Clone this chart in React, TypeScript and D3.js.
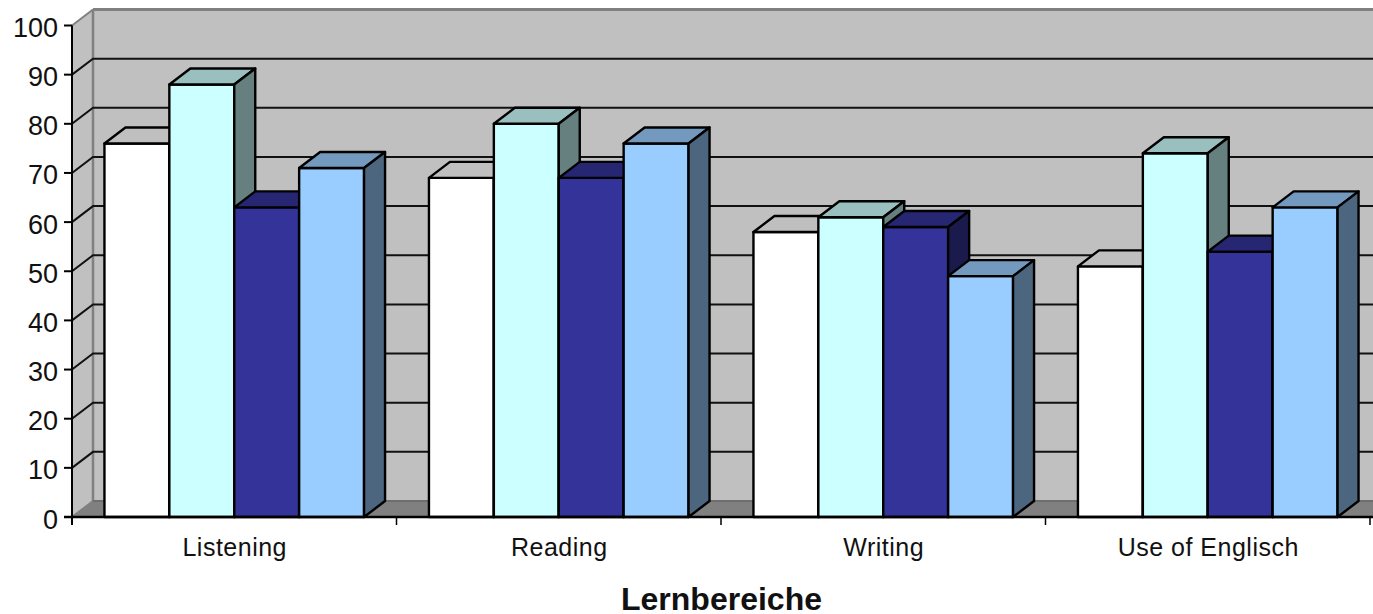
import React from "react";
import * as d3 from "d3";

const categories = ["Listening", "Reading", "Writing", "Use of Englisch"];
const seriesA = [76, 69, 58, 51];
const seriesB = [88, 80, 61, 74];
const seriesC = [63, 69, 59, 54];
const seriesD = [71, 76, 49, 63];
const yTicks = [0, 10, 20, 30, 40, 50, 60, 70, 80, 90, 100];
const seriesColors = ["#FFFFFF", "#CCFFFF", "#333399", "#99CCFF"];
const axisTitle = "Lernbereiche";

const W = 1373, H = 614;
const X0 = 72, X1 = 1370, Y0 = 517, Y100 = 25.5, DX = 21, DY = -16;
const FONT = "'Liberation Sans', Arial, sans-serif";

export default function App() {
  const series = [seriesA, seriesB, seriesC, seriesD];
  const x = d3.scaleBand<string>().domain(categories).range([X0, X1]);
  const inner = d3.scaleBand<number>().domain([0, 1, 2, 3]).range([0, x.bandwidth()]).paddingInner(0).paddingOuter(0.5);
  const y = d3.scaleLinear().domain([0, 100]).range([Y0, Y100]);
  const pts = (p: number[][]) => p.map((q) => q.join(",")).join(" ");
  const shade = (c: string, k: number) => {
    const r = d3.rgb(c);
    return d3.rgb(r.r * k, r.g * k, r.b * k).formatHex();
  };
  const tickXs = [...categories.map((c) => x(c) as number), X1];

  return (
    <svg width={W} height={H} style={{ position: "fixed", left: 0, top: 0, background: "#fff" }} fontFamily={FONT}>
      {/* walls */}
      <polygon points={pts([[X0 + DX, y(100) + DY], [W, y(100) + DY], [W, Y0 + DY], [X0 + DX, Y0 + DY]])} fill="#C0C0C0" />
      <polygon points={pts([[X0, y(100)], [X0 + DX, y(100) + DY], [X0 + DX, Y0 + DY], [X0, Y0]])} fill="#C0C0C0" />
      <polygon points={pts([[X0, Y0], [X0 + DX, Y0 + DY], [W, Y0 + DY], [W, Y0]])} fill="#808080" />
      <line x1={X0 + DX} x2={W} y1={y(100) + DY} y2={y(100) + DY} stroke="#808080" strokeWidth={3} />
      <line x1={X0 + DX} x2={X0 + DX} y1={y(100) + DY} y2={Y0 + DY} stroke="#808080" strokeWidth={2.5} />
      <line x1={X0} x2={X0 + DX} y1={y(100)} y2={y(100) + DY} stroke="#808080" strokeWidth={2} />
      <line x1={X0} x2={X0 + DX} y1={Y0} y2={Y0 + DY} stroke="#808080" strokeWidth={2} />
      <line x1={X0 + DX} x2={W} y1={Y0 + DY} y2={Y0 + DY} stroke="#6E6E6E" strokeWidth={2} />

      {/* gridlines */}
      {yTicks.filter((t) => t > 0 && t < 100).map((t) => (
        <polyline key={t} points={pts([[X0, y(t)], [X0 + DX, y(t) + DY], [W, y(t) + DY]])} fill="none" stroke="#111" strokeWidth={2} />
      ))}

      {/* bars */}
      {categories.map((c, ci) =>
        series.map((s, si) => {
          const l = (x(c) as number) + (inner(si) as number);
          const r = l + inner.bandwidth();
          const t = y(s[ci]);
          const col = seriesColors[si];
          const st = { stroke: "#000", strokeWidth: 2.4, strokeLinejoin: "round" as const };
          return (
            <g key={c + si}>
              <rect x={l} y={t} width={r - l} height={Y0 - t} fill={col} {...st} />
              <polygon points={pts([[l, t], [l + DX, t + DY], [r + DX, t + DY], [r, t]])} fill={shade(col, 0.75)} {...st} />
              <polygon points={pts([[r, t], [r + DX, t + DY], [r + DX, Y0 + DY], [r, Y0]])} fill={shade(col, 0.5)} {...st} />
            </g>
          );
        })
      )}

      {/* axes */}
      <line x1={X0} x2={X0} y1={y(100)} y2={Y0 + 8} stroke="#000" strokeWidth={2} />
      <line x1={X0 - 8} x2={W} y1={Y0} y2={Y0} stroke="#000" strokeWidth={2.4} />
      {yTicks.map((t) => (
        <g key={t}>
          <line x1={X0 - 8} x2={X0} y1={y(t)} y2={y(t)} stroke="#000" strokeWidth={2} />
          <text x={X0 - 14} y={y(t) + 11.5} textAnchor="end" fontSize={27} fill="#111">{t}</text>
        </g>
      ))}
      {tickXs.map((v, i) => (
        <line key={i} x1={v} x2={v} y1={Y0} y2={Y0 + 8} stroke="#000" strokeWidth={1.5} />
      ))}
      {categories.map((c) => (
        <text key={c} x={(x(c) as number) + x.bandwidth() / 2 + 0.5} y={556} textAnchor="middle" fontSize={25} letterSpacing={0.5} fill="#111">{c}</text>
      ))}
      <text x={721.5} y={610} textAnchor="middle" fontSize={32} fontWeight="bold" fill="#111">{axisTitle}</text>
    </svg>
  );
}
